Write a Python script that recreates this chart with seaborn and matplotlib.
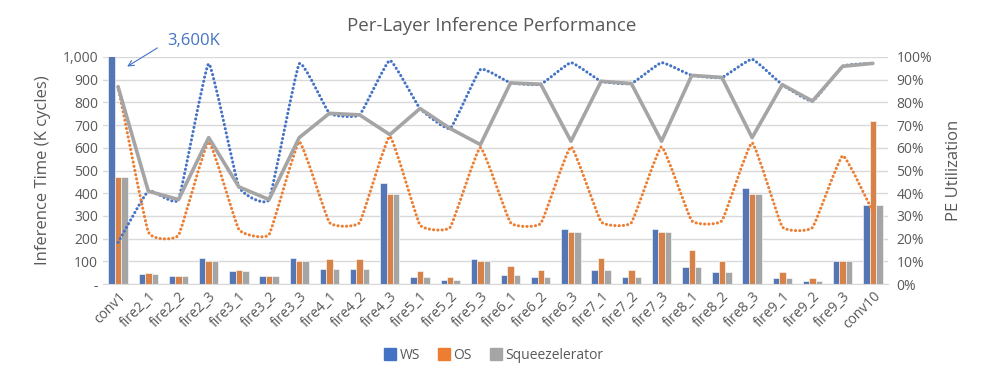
import numpy as np
import pandas as pd
import matplotlib
matplotlib.use("Agg")
import matplotlib.pyplot as plt
from matplotlib.path import Path
from matplotlib.patches import PathPatch
from matplotlib.lines import Line2D
import seaborn as sns

# Layers
layers = ["conv1",
          "fire2_1", "fire2_2", "fire2_3", "fire3_1", "fire3_2", "fire3_3",
          "fire4_1", "fire4_2", "fire4_3", "fire5_1", "fire5_2", "fire5_3",
          "fire6_1", "fire6_2", "fire6_3", "fire7_1", "fire7_2", "fire7_3",
          "fire8_1", "fire8_2", "fire8_3", "fire9_1", "fire9_2", "fire9_3",
          "conv10"]

# Inference time (K cycles)
ws_time = [3600, 45, 34, 113, 57, 34, 113, 66, 66, 443, 32, 18, 110,
           40, 32, 242, 62, 32, 242, 76, 51, 425, 25, 15, 101, 348]
os_time = [470, 48, 34, 103, 62, 34, 103, 108, 108, 396, 56, 29, 103,
           79, 62, 227, 113, 62, 227, 150, 101, 396, 51, 25, 101, 718]
sq_time = [470, 45, 34, 103, 57, 34, 103, 66, 66, 396, 32, 18, 103,
           40, 32, 227, 62, 32, 227, 76, 51, 396, 25, 15, 101, 348]

# PE utilization (%)
ws_util = [18.3, 41, 37.2, 97, 42.8, 37.2, 97, 75.2, 74.5, 98.5, 77.3, 68.5, 94.5,
           88.6, 88, 97.5, 89.3, 88.3, 97.5, 91.9, 91, 99, 87.8, 80.6, 95.9, 97.2]
os_util = [87, 23, 21.5, 62.6, 24, 21.8, 62.6, 27.1, 27.1, 65, 26, 25, 60.1,
           27, 26.7, 60.4, 27.4, 27, 60.4, 27.9, 27.9, 62.2, 25.2, 24.9, 56.5, 31.8]
sq_util = [86.8, 40.9, 37.2, 64.5, 42.8, 37.2, 64.5, 75.2, 74.5, 65.8, 77.3, 68.5, 61.4,
           88.6, 88, 62.9, 89.3, 88.3, 62.9, 91.9, 91, 64.5, 87.8, 80.6, 95.9, 97.2]

series_names = ["WS", "OS", "Squeezelerator"]
colors = ["#4472C4", "#ED7D31", "#A5A5A5"]
text_col = "#595959"

sns.set_style("white")
plt.rcParams["font.family"] = ["Open Sans", "DejaVu Sans"]

df = pd.DataFrame({
    "layer": layers * 3,
    "time": ws_time + os_time + sq_time,
    "dataflow": [s for s in series_names for _ in layers],
})

fig = plt.figure(figsize=(9.84, 3.80), dpi=100)
ax = fig.add_axes([0.1047, 0.2526, 0.7977, 0.5974])

sns.barplot(data=df, x="layer", y="time", hue="dataflow", palette=colors,
            width=0.64, edgecolor="white", linewidth=0.4, ax=ax, legend=False)
ax.set_ylim(0, 1000)
ax.set_xlim(-0.5, len(layers) - 0.5)
ax.set_yticks(np.arange(0, 1001, 100))
ax.set_yticklabels(["-"] + [f"{v:,}" for v in range(100, 1001, 100)])
ax.yaxis.grid(True, color="#D9D9D9", linewidth=1)
ax.set_axisbelow(True)
for s in ["left", "right", "top"]:
    ax.spines[s].set_visible(False)
ax.spines["bottom"].set_color("#D9D9D9")
ax.tick_params(axis="both", length=0, colors=text_col, labelsize=10)
ax.set_xticks(range(len(layers)))
ax.set_xticklabels(layers, rotation=45, ha="right", rotation_mode="anchor")
ax.set_xlabel("")
ax.set_ylabel("Inference Time (K cycles)", color=text_col, fontsize=12, labelpad=8)

# Utilization on the right axis
ax2 = ax.twinx()
ax2.set_ylim(0, 100)
ax2.set_yticks(np.arange(0, 101, 10))
ax2.set_yticklabels([f"{v}%" for v in range(0, 101, 10)])
for s in ax2.spines.values():
    s.set_visible(False)
ax2.tick_params(axis="y", length=0, colors=text_col, labelsize=10, pad=6)
ax2.set_ylabel("PE Utilization", color=text_col, fontsize=12, labelpad=10)

x = np.arange(len(layers))


def smooth_path(xs, ys, k=0.06):
    # gently rounded line as cubic bezier segments through the points
    pts = np.column_stack([xs, ys]).astype(float)
    verts = [pts[0]]
    codes = [Path.MOVETO]
    n = len(pts)
    for i in range(n - 1):
        p0 = pts[i - 1] if i > 0 else pts[i]
        p1 = pts[i]
        p2 = pts[i + 1]
        p3 = pts[i + 2] if i + 2 < n else pts[i + 1]
        c1 = p1 + (p2 - p0) * k
        c2 = p2 - (p3 - p1) * k
        verts += [c1, c2, p2]
        codes += [Path.CURVE4] * 3
    return Path(verts, codes)


for vals, col in [(ws_util, colors[0]), (os_util, colors[1])]:
    patch = PathPatch(smooth_path(x, vals), facecolor="none", edgecolor=col,
                      linewidth=2.2, linestyle=(0, (0.05, 1.35)),
                      capstyle="round", zorder=3)
    ax2.add_patch(patch)

sns.lineplot(x=x, y=sq_util, color=colors[2], linewidth=2.6, ax=ax2, zorder=4)

ax.annotate("", xy=(0.3, 958), xytext=(1.3, 1040), annotation_clip=False,
            arrowprops=dict(arrowstyle="->", color=colors[0], lw=0.8,
                            shrinkA=0, shrinkB=0))
ax.text(2.5, 1070, "3,600K", color=colors[0], fontsize=12, ha="center",
        va="center", clip_on=False)

fig.suptitle("Per-Layer Inference Performance", y=0.955, fontsize=13.5, color=text_col)

handles = [Line2D([], [], marker="s", linestyle="none", markersize=8,
                  markerfacecolor=c, markeredgecolor=c) for c in colors]
fig.legend(handles, series_names, loc="center", bbox_to_anchor=(0.502, 0.065),
           ncol=3, frameon=False, fontsize=10, handlelength=0.8,
           handletextpad=0.3, columnspacing=1.3, labelcolor=text_col)

fig.savefig("out.png", dpi=100)
